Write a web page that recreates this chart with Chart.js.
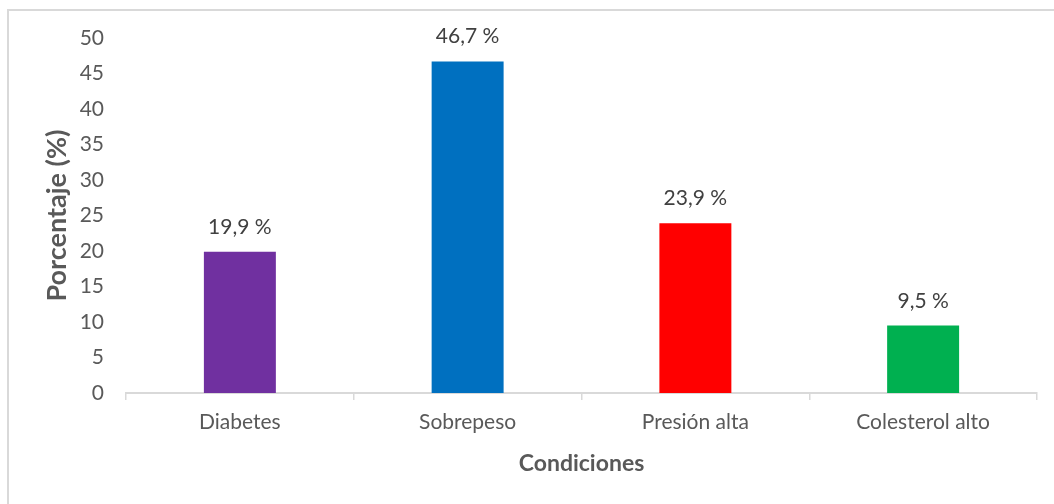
<!DOCTYPE html>
<html>
<head>
<meta charset="utf-8">
<script src="https://cdn.jsdelivr.net/npm/chart.js@4.4.1/dist/chart.umd.min.js"></script>
<style>
  html, body { margin: 0; padding: 0; background: #fff; }
  #wrap { position: relative; width: 1054px; height: 504px; overflow: hidden; }
  #frame { position: absolute; left: 7px; top: 9px; right: -10px; bottom: -10px;
           border-left: 2px solid #d9d9d9; border-top: 2px solid #d9d9d9; }
  #grafico { position: absolute; left: 0; top: 0; }
</style>
</head>
<body>
<div id="wrap">
  <div id="frame"></div>
  <canvas id="grafico" width="1054" height="504"></canvas>
</div>
<script>
// Datos del gráfico
var condiciones = ["Diabetes", "Sobrepeso", "Presión alta", "Colesterol alto"];
var porcentajes = [19.9, 46.7, 23.9, 9.5];
var colores = ["#7030A0", "#0070C0", "#FF0000", "#00B050"];
var ticksY = [0, 5, 10, 15, 20, 25, 30, 35, 40, 45, 50];

var FUENTE = "Lato, 'Open Sans', sans-serif";

// Etiqueta de valor encima de cada barra ("19,9 %")
var etiquetasBarras = {
    id: "etiquetasBarras",
    afterDatasetsDraw: function (chart) {
        var ctx = chart.ctx;
        var meta = chart.getDatasetMeta(0);
        ctx.save();
        ctx.font = "21px " + FUENTE;
        ctx.fillStyle = "#404040";
        ctx.textAlign = "center";
        ctx.textBaseline = "alphabetic";
        meta.data.forEach(function (bar, i) {
            var txt = porcentajes[i].toFixed(1).replace(".", ",") + " %";
            ctx.fillText(txt, bar.x, bar.y - 18);
        });
        ctx.restore();
    }
};

var ctx = document.getElementById("grafico");
new Chart(ctx, {
    type: "bar",
    data: {
        labels: condiciones,
        datasets: [{
            data: porcentajes,
            backgroundColor: colores,
            borderWidth: 0,
            categoryPercentage: 1,
            barPercentage: 0.316
        }]
    },
    options: {
        responsive: false,
        animation: false,
        layout: { padding: { left: 0, right: 17, top: 38, bottom: 0 } },
        plugins: {
            legend: { display: false },
            tooltip: { enabled: false }
        },
        scales: {
            x: {
                grid: { display: true, drawOnChartArea: false, drawTicks: true, tickLength: 7, color: "#d9d9d9", lineWidth: 1.5 },
                border: { display: true, color: "#d9d9d9", width: 2 },
                ticks: { color: "#595959", font: { family: FUENTE, size: 21 }, padding: 10 },
                title: { display: true, text: "Condiciones", color: "#595959",
                         font: { family: FUENTE, size: 23, weight: "bold" }, padding: { top: 0, bottom: 27 } },
                afterFit: function (scale) { scale.height = 111; }
            },
            y: {
                min: 0,
                max: 50,
                afterBuildTicks: function (scale) {
                    scale.ticks = ticksY.map(function (v) { return { value: v }; });
                },
                grid: { display: false, drawTicks: false },
                border: { display: false },
                ticks: { color: "#595959", font: { family: FUENTE, size: 21 }, padding: 22 },
                title: { display: true, text: "Porcentaje (%)", color: "#595959",
                         font: { family: FUENTE, size: 27, weight: "bold" }, padding: { top: 41, bottom: 0 } },
                afterFit: function (scale) { scale.width = 126; }
            }
        }
    },
    plugins: [etiquetasBarras]
});
</script>
</body>
</html>
